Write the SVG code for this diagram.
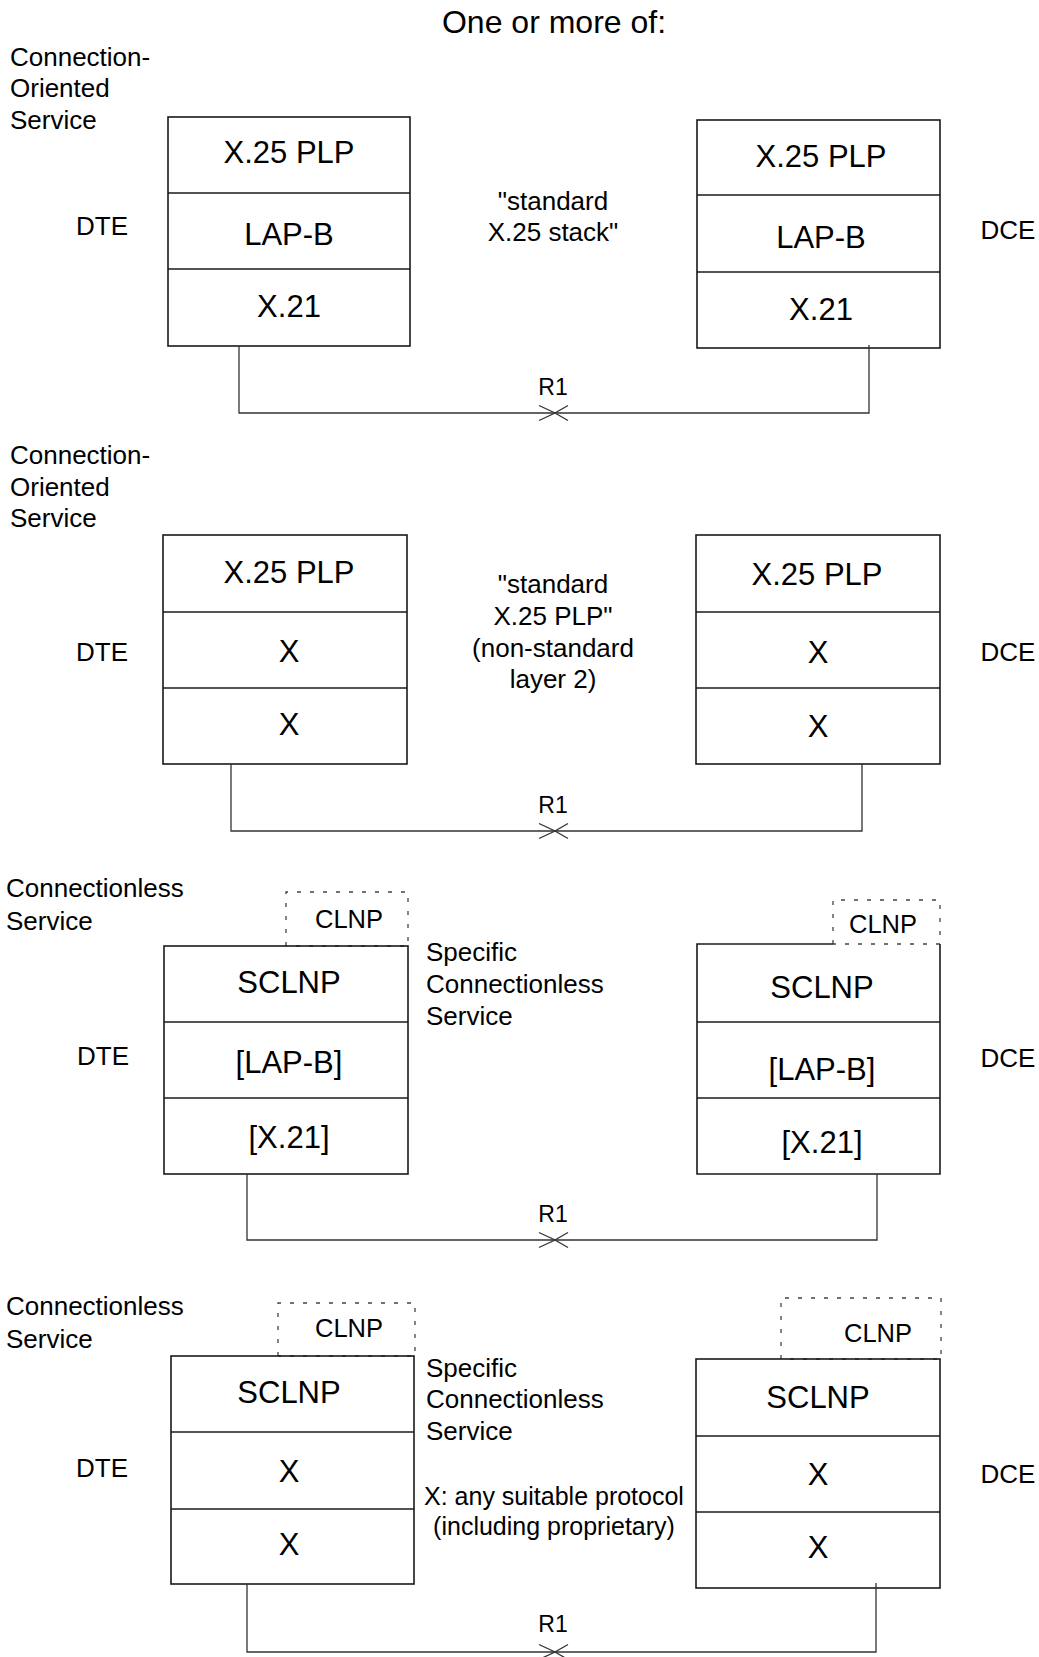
<svg xmlns="http://www.w3.org/2000/svg" width="1039" height="1657" viewBox="0 0 1039 1657">
<style>
text{font-family:"Liberation Sans",Arial,sans-serif;fill:#000}
.title{font-size:32px;text-anchor:middle}
.lbl{font-size:26px}
.mid{font-size:26px;text-anchor:middle}
.note{font-size:25px;text-anchor:middle}
.lay{font-size:31px;text-anchor:middle}
.r1{font-size:23px;text-anchor:middle}
.clnp{font-size:25.5px;text-anchor:middle}
.box{fill:none;stroke:#1a1a1a;stroke-width:1.6}
.dash{fill:none;stroke:#444;stroke-width:1.3;stroke-dasharray:4 9}
.conn{fill:none;stroke:#333;stroke-width:1.3}
</style>
<defs>
<path id="cross" d="M-16,-7.5 L0,0 L-16,7.5 M13,-7.5 L0,0 L13,7.5" fill="none" stroke="#333" stroke-width="1.3"/>
</defs>
<rect width="1039" height="1657" fill="#fff"/>
<text class="title" x="554" y="33">One or more of:</text>

<!-- Panel 1 -->
<g id="p1-service"><text class="lbl" x="10" y="66">Connection-</text><text class="lbl" x="10" y="97">Oriented</text><text class="lbl" x="10" y="129">Service</text></g>
<g id="p1-dte-label"><text class="lbl" x="102" y="235" text-anchor="middle">DTE</text></g>
<g id="p1-dte">
<rect class="box" x="168" y="117" width="242" height="229"/>
<line class="box" x1="168" y1="193" x2="410" y2="193"/>
<line class="box" x1="168" y1="269" x2="410" y2="269"/>
<text class="lay" x="289" y="163">X.25 PLP</text>
<text class="lay" x="289" y="245">LAP-B</text>
<text class="lay" x="289" y="317">X.21</text>
</g>
<g id="p1-note"><text class="mid" x="553" y="210">"standard</text><text class="mid" x="553" y="241">X.25 stack"</text></g>
<g id="p1-dce">
<rect class="box" x="697" y="120" width="243" height="228"/>
<line class="box" x1="697" y1="195" x2="940" y2="195"/>
<line class="box" x1="697" y1="272" x2="940" y2="272"/>
<text class="lay" x="821" y="167">X.25 PLP</text>
<text class="lay" x="821" y="248">LAP-B</text>
<text class="lay" x="821" y="320">X.21</text>
</g>
<g id="p1-dce-label"><text class="lbl" x="1008" y="239" text-anchor="middle">DCE</text></g>

<!-- Panel 2 -->
<g id="p2-service"><text class="lbl" x="10" y="464">Connection-</text><text class="lbl" x="10" y="496">Oriented</text><text class="lbl" x="10" y="527">Service</text></g>
<g id="p2-dte-label"><text class="lbl" x="102" y="661" text-anchor="middle">DTE</text></g>
<g id="p2-dte">
<rect class="box" x="163" y="535" width="244" height="229"/>
<line class="box" x1="163" y1="612" x2="407" y2="612"/>
<line class="box" x1="163" y1="688" x2="407" y2="688"/>
<text class="lay" x="289" y="583">X.25 PLP</text>
<text class="lay" x="289" y="662">X</text>
<text class="lay" x="289" y="735">X</text>
</g>
<g id="p2-note"><text class="mid" x="553" y="593">"standard</text><text class="mid" x="553" y="625">X.25 PLP"</text><text class="mid" x="553" y="657">(non-standard</text><text class="mid" x="553" y="688">layer 2)</text></g>
<g id="p2-dce">
<rect class="box" x="696" y="535" width="244" height="229"/>
<line class="box" x1="696" y1="612" x2="940" y2="612"/>
<line class="box" x1="696" y1="688" x2="940" y2="688"/>
<text class="lay" x="817" y="585">X.25 PLP</text>
<text class="lay" x="818" y="663">X</text>
<text class="lay" x="818" y="737">X</text>
</g>
<g id="p2-dce-label"><text class="lbl" x="1008" y="661" text-anchor="middle">DCE</text></g>

<!-- Panel 3 -->
<g id="p3-service"><text class="lbl" x="6" y="897">Connectionless</text><text class="lbl" x="6" y="930">Service</text></g>
<g id="p3-dte-label"><text class="lbl" x="103" y="1065" text-anchor="middle">DTE</text></g>
<g id="p3-clnp-left">
<path class="dash" d="M286,946 V892 H408 V946 H286"/>
<text class="clnp" x="349" y="928">CLNP</text>
</g>
<g id="p3-dte">
<rect class="box" x="164" y="946" width="244" height="228"/>
<line class="box" x1="164" y1="1022" x2="408" y2="1022"/>
<line class="box" x1="164" y1="1098" x2="408" y2="1098"/>
<text class="lay" x="289" y="993">SCLNP</text>
<text class="lay" x="289" y="1073">[LAP-B]</text>
<text class="lay" x="289" y="1148">[X.21]</text>
</g>
<g id="p3-note"><text class="lbl" x="426" y="961">Specific</text><text class="lbl" x="426" y="993">Connectionless</text><text class="lbl" x="426" y="1025">Service</text></g>
<g id="p3-clnp-right">
<path class="dash" d="M833,944 V900 H940 V944 H833"/>
<text class="clnp" x="883" y="933">CLNP</text>
</g>
<g id="p3-dce">
<path class="box" d="M833,944 H697 V1174 H940 V944"/>
<line class="box" x1="697" y1="1022" x2="940" y2="1022"/>
<line class="box" x1="697" y1="1098" x2="940" y2="1098"/>
<text class="lay" x="822" y="998">SCLNP</text>
<text class="lay" x="822" y="1080">[LAP-B]</text>
<text class="lay" x="822" y="1153">[X.21]</text>
</g>
<g id="p3-dce-label"><text class="lbl" x="1008" y="1067" text-anchor="middle">DCE</text></g>

<!-- Panel 4 -->
<g id="p4-service"><text class="lbl" x="6" y="1315">Connectionless</text><text class="lbl" x="6" y="1348">Service</text></g>
<g id="p4-dte-label"><text class="lbl" x="102" y="1477" text-anchor="middle">DTE</text></g>
<g id="p4-clnp-left">
<path class="dash" d="M278,1356 V1303 H415 V1356 H278"/>
<text class="clnp" x="349" y="1337">CLNP</text>
</g>
<g id="p4-dte">
<rect class="box" x="171" y="1356" width="243" height="228"/>
<line class="box" x1="171" y1="1432" x2="414" y2="1432"/>
<line class="box" x1="171" y1="1509" x2="414" y2="1509"/>
<text class="lay" x="289" y="1403">SCLNP</text>
<text class="lay" x="289" y="1482">X</text>
<text class="lay" x="289" y="1555">X</text>
</g>
<g id="p4-note"><text class="lbl" x="426" y="1377">Specific</text><text class="lbl" x="426" y="1408">Connectionless</text><text class="lbl" x="426" y="1440">Service</text>
<text class="note" x="554" y="1505">X: any suitable protocol</text><text class="note" x="554" y="1535">(including proprietary)</text></g>
<g id="p4-clnp-right">
<path class="dash" d="M781,1359 V1298 H941 V1359 H781"/>
<text class="clnp" x="878" y="1342">CLNP</text>
</g>
<g id="p4-dce">
<rect class="box" x="696" y="1359" width="244" height="229"/>
<line class="box" x1="696" y1="1436" x2="940" y2="1436"/>
<line class="box" x1="696" y1="1512" x2="940" y2="1512"/>
<text class="lay" x="818" y="1408">SCLNP</text>
<text class="lay" x="818" y="1485">X</text>
<text class="lay" x="818" y="1558">X</text>
</g>
<g id="p4-dce-label"><text class="lbl" x="1008" y="1483" text-anchor="middle">DCE</text></g>

<!-- Connectors -->
<g id="connectors">
<path class="conn" d="M239,346 V413 H869 V345"/>
<use href="#cross" x="555" y="413"/>
<text class="r1" x="553" y="395">R1</text>
<path class="conn" d="M231,764 V831 H862 V764"/>
<use href="#cross" x="555" y="831"/>
<text class="r1" x="553" y="813">R1</text>
<path class="conn" d="M247,1174 V1240 H877 V1174"/>
<use href="#cross" x="555" y="1240"/>
<text class="r1" x="553" y="1222">R1</text>
<path class="conn" d="M247,1584 V1652 H876 V1583"/>
<use href="#cross" x="555" y="1652"/>
<text class="r1" x="553" y="1632">R1</text>
</g>
</svg>
